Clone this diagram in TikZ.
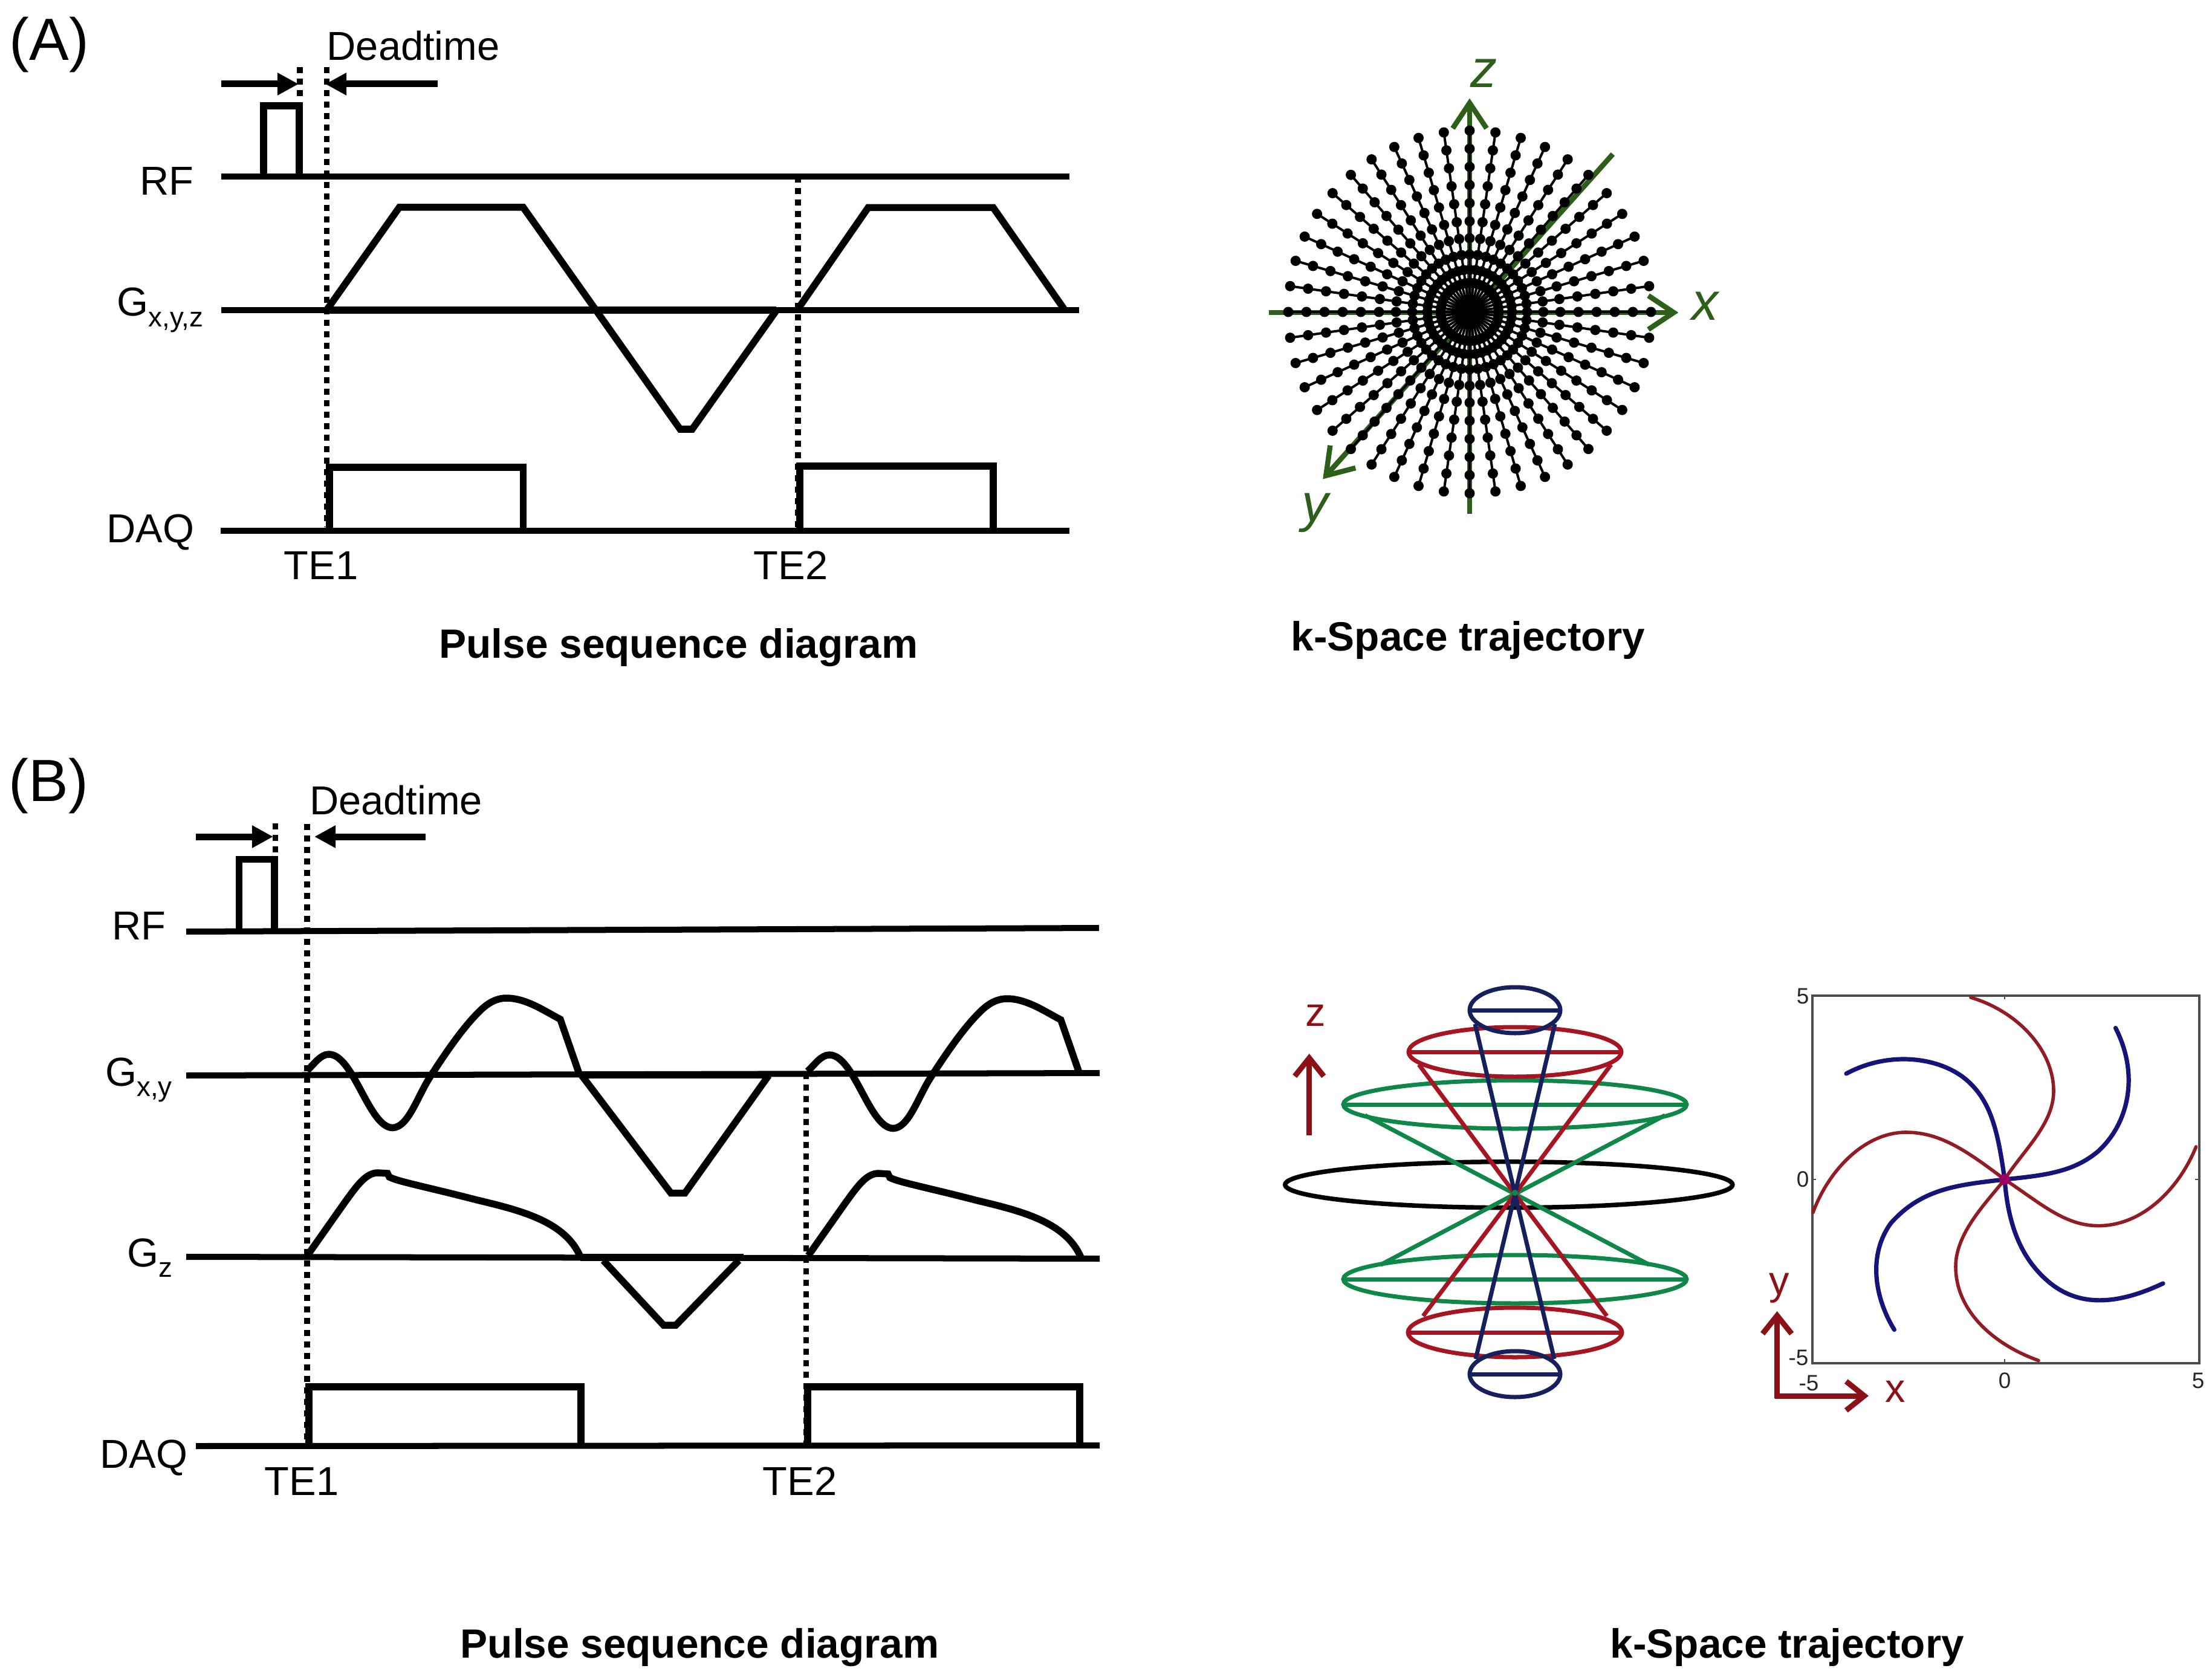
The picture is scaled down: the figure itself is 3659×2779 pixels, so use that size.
\documentclass[tikz,border=0pt]{standalone}
\usepackage{fontspec}
\setmainfont{Liberation Sans}
\usepackage{xcolor}
\usetikzlibrary{arrows.meta}
\definecolor{kgreen}{RGB}{45,95,27}
\definecolor{conenavy}{RGB}{22,32,92}
\definecolor{conered}{RGB}{165,22,34}
\definecolor{conegreen}{RGB}{14,135,72}
\definecolor{axisred}{RGB}{140,16,24}
\definecolor{spiralblue}{RGB}{22,20,120}
\definecolor{spiralred}{RGB}{145,28,36}
\tikzset{
  lab/.style={anchor=base west, inner sep=0pt, font=\fontsize{19}{23}\selectfont},
  panellab/.style={anchor=base west, inner sep=0pt, font=\fontsize{28}{34}\selectfont},
  titlelab/.style={anchor=base west, inner sep=0pt, font=\fontsize{19.2}{23}\selectfont\bfseries},
  greenlab/.style={anchor=base west, inner sep=0pt, text=kgreen, font=\fontsize{25}{30}\selectfont\itshape},
  redlab/.style={anchor=base west, inner sep=0pt, text=axisred, font=\fontsize{19}{23}\selectfont},
  ticklab/.style={inner sep=0pt, text=black!85, font=\fontsize{10.5}{10.5}\selectfont},
  base/.style={line width=0.1cm},
  wave/.style={line width=0.115cm, line join=miter},
  thickbase/.style={line width=0.125cm},
  teline/.style={line width=0.095cm, dash pattern=on 0.1cm off 0.09cm},
  dtarrow/.style={line width=0.11cm, -{Triangle[length=0.35cm,width=0.35cm]}},
  kaxis/.style={kgreen, line width=0.085cm, -{Straight Barb[length=0.42cm,width=0.56cm]}},
  redaxis/.style={axisred, line width=0.09cm, -{Straight Barb[length=0.3cm,width=0.48cm]}},
  conepart/.style={line width=0.07cm},
  bluecurve/.style={spiralblue, line width=0.072cm, line cap=round},
  redcurve/.style={spiralred, line width=0.056cm, line cap=round},
}
\newcommand{\subtext}[1]{\raisebox{-0.17cm}{\fontsize{13}{15}\selectfont #1}}

\begin{document}
\begin{tikzpicture}[x=0.01cm, y=-0.01cm]
  \useasboundingbox (0,0) rectangle (3659,2779);

  % Panel A labels
  \node[panellab] (panelA) at (15,100) {(A)};
  \node[lab] (deadA) at (540,100) {Deadtime};
  \node[lab] (rfA) at (231,323) {RF};
  \node[lab] (gA) at (193,523) {G\subtext{x,y,z}};
  \node[lab] (daqA) at (176,897) {DAQ};
  \node[lab] (te1A) at (469,958) {TE1};
  \node[lab] (te2A) at (1246,958) {TE2};
  \node[titlelab] (pulseA) at (726,1088) {Pulse sequence diagram};
  \node[titlelab] (trajA) at (2135,1076) {k-Space trajectory};

  % Panel A deadtime
  \draw[dtarrow] (366,139) -- (494,139);
  \draw[dtarrow] (724,139) -- (538,139);
  \draw[teline] (496,111) -- (496,165);
  \draw[teline] (540.5,111) -- (540.5,872);
  \draw[teline] (1320,292) -- (1320,872);

  % Panel A baselines
  \draw[base] (366,292) -- (1769,292);
  \draw[base] (366,513) -- (1785,513);
  \draw[thickbase] (541,513) -- (1284,513);
  \draw[base] (365,878) -- (1769,878);

  % Panel A waveforms
  \draw[wave] (436,292) -- (436,175) -- (495,175) -- (495,292);
  \draw[wave] (541,512) -- (660.5,343) -- (865.5,343) -- (1125,710) -- (1145,710) -- (1284,514);
  \draw[wave] (1320,511) -- (1436,343.5) -- (1643,343.5) -- (1760,511);
  \draw[wave] (545,878) -- (545,773) -- (865.5,773) -- (865.5,878);
  \draw[wave] (1323,877) -- (1323,771) -- (1643,771) -- (1643,877);

  % Panel A trajectory
  \draw[kgreen, line width=0.085cm] (2431,849.5) -- (2431,516);
  \draw[kaxis] (2431,516) -- (2431,162.7);
  \draw[kaxis] (2098.8,517) -- (2776.3,517);
  \draw[kaxis] (2667.9,254.9) -- (2188.2,792.5);
  \begin{scope}[shift={(2431,516)}]
    \foreach \k in {0,...,43} {
      \pgfmathsetmacro{\ang}{360*\k/44}
      \draw[line width=0.04cm] (0,0) -- (\ang:300);
      \foreach \r in {300,270,240,210,180,150,122,95,70,48}
        \fill (\ang:\r) circle [radius=8.5];
    }
  \end{scope}
  \fill (2431,516) circle [radius=24];
  \node[greenlab] (zA) at (2432,145) {z};
  \node[greenlab] (xA) at (2798,530) {x};
  \node[greenlab] (yA) at (2153,863) {y};

  % Panel B labels
  \node[panellab] (panelB) at (14,1325) {(B)};
  \node[lab] (deadB) at (511.5,1347) {Deadtime};
  \node[lab] (rfB) at (185,1554) {RF};
  \node[lab] (gxyB) at (173.5,1796) {G\subtext{x,y}};
  \node[lab] (gzB) at (210,2095) {G\subtext{z}};
  \node[lab] (daqB) at (165,2428) {DAQ};
  \node[lab] (te1B) at (437,2473) {TE1};
  \node[lab] (te2B) at (1261,2473) {TE2};
  \node[titlelab] (pulseB) at (761,2742) {Pulse sequence diagram};
  \node[titlelab] (trajB) at (2663,2742) {k-Space trajectory};

  % Panel B deadtime
  \draw[dtarrow] (324,1384) -- (452,1384);
  \draw[dtarrow] (703.6,1384) -- (520,1384);
  \draw[teline] (455.5,1362) -- (455.5,1420);
  \draw[teline] (508,1363) -- (508,2389);
  \draw[teline] (1333.5,1775) -- (1333.5,2389);

  % Panel B baselines
  \draw[base] (308,1541) -- (1818,1535);
  \draw[base] (308,1779) -- (1819,1775);
  \draw[thickbase] (960,1778) -- (1274,1778);
  \draw[base] (308,2079) -- (1819,2082);
  \draw[thickbase] (960,2080) -- (1230,2080);
  \draw[base] (324,2392) -- (1819,2391);

  % Panel B waveforms
  \draw[wave] (395.5,1541) -- (395.5,1421.6) -- (454,1421.6) -- (454,1540);
  \foreach \dx/\dy in {0/0, 828/1} {
    \begin{scope}[shift={(\dx,\dy)}]
      \draw[wave] (507.8,1771) .. controls (520,1760) and (530,1744) .. (544,1744)
        .. controls (585,1744) and (610,1865) .. (649.4,1865.5)
        .. controls (675,1865) and (690,1815) .. (711,1782)
        .. controls (735,1745) and (765,1700) .. (794,1672)
        .. controls (810,1656) and (825,1651) .. (837.5,1651)
        .. controls (870,1651) and (900,1672) .. (926.8,1686) -- (958,1776);
      \draw[wave] (509,2076) -- (571,1988) .. controls (590,1962) and (605,1940) .. (625,1940)
        -- (641,1941) -- (644,1947) .. controls (660,1955) and (700,1962) .. (787.8,1984.7)
        .. controls (860,2002) and (935,2020) .. (960,2079);
    \end{scope}
  }
  \draw[wave] (960,1776) -- (1109.7,1973.5) -- (1133,1973.5) -- (1271.5,1779);
  \draw[wave] (998,2085) -- (1097.6,2192) -- (1118,2192) -- (1222,2085);
  \draw[wave] (511,2392) -- (511,2294) -- (961,2294) -- (961,2392);
  \draw[wave] (1336,2391) -- (1336,2294) -- (1786,2294) -- (1786,2391);

  % Panel B cones
  \draw[conepart, line width=0.075cm] (2495.8,1959.7) ellipse [x radius=370, y radius=38];
  \foreach \col/\cy/\rx/\ry/\ex/\ey in {conegreen/1827/284/40/248/1845, conered/1740/176/41/159/1761, conenavy/1671/75/38/66/1694, conegreen/2116/284/40/222/2092, conered/2204/177/41/152/2177, conenavy/2273/75/38/65/2248} {
    \draw[conepart, \col] (2506,\cy) ellipse [x radius=\rx, y radius=\ry];
    \draw[conepart, \col] (2506-\rx,\cy) -- (2506+\rx,\cy);
    \draw[conepart, \col] (2506-\ex,\ey) -- (2506,1975) -- (2506+\ex,\ey);
  }
  \fill[conenavy] (2506,1990) circle [radius=6];
  \fill[conegreen] (2506,1973) circle [radius=5];
  \draw[redaxis] (2165.7,1878) -- (2165.7,1743);
  \node[redlab] (zB) at (2159,1697) {z};

  % Panel B spiral plot
  \draw[black!70, line width=0.04cm] (2997.7,1647) rectangle (3637.6,2254.6);
  \draw[black!70, line width=0.02cm] (3316,1647) -- (3316,1653);
  \draw[black!70, line width=0.02cm] (3316,2254.6) -- (3316,2248);
  \draw[black!70, line width=0.02cm] (2997.7,1951) -- (3004,1951);
  \draw[black!70, line width=0.02cm] (3637.6,1951) -- (3631,1951);
  \draw[bluecurve] (3316,1951) .. controls (3306,1880) and (3296,1830) .. (3262,1795)
    .. controls (3220,1750) and (3130,1735) .. (3054,1776);
  \draw[bluecurve] (3316,1951) .. controls (3386,1944) and (3430,1938) .. (3470,1905)
    .. controls (3520,1860) and (3540,1780) .. (3499.5,1700.5);
  \draw[bluecurve] (3316,1951) .. controls (3322,2030) and (3345,2085) .. (3392,2123)
    .. controls (3445,2165) and (3510,2155) .. (3578,2123);
  \draw[bluecurve] (3316,1951) .. controls (3240,1960) and (3180,1965) .. (3128,2023)
    .. controls (3090,2075) and (3100,2145) .. (3133.4,2199.5);
  \draw[redcurve] (3316,1951) .. controls (3345,1905) and (3397,1860) .. (3397,1805)
    .. controls (3397,1735) and (3335,1672) .. (3260,1650);
  \draw[redcurve] (3316,1951) .. controls (3255,1905) and (3210,1873) .. (3153,1873)
    .. controls (3085,1873) and (3025,1935) .. (2999,2005.6);
  \draw[redcurve] (3316,1951) .. controls (3285,1990) and (3235,2040) .. (3235,2095)
    .. controls (3235,2170) and (3300,2225) .. (3372,2250.5);
  \draw[redcurve] (3316,1951) .. controls (3375,1990) and (3415,2027.6) .. (3471,2027.6)
    .. controls (3545,2027.6) and (3605,1965) .. (3632.6,1897);
  \fill[purple!80!blue] (3316,1951) circle [radius=9];
  \node[ticklab] (ytop) at (2982,1648) {5};
  \node[ticklab] (ymid) at (2982,1951) {0};
  \node[ticklab] (ybot) at (2975,2246) {-5};
  \node[ticklab] (xleft) at (2992,2288) {-5};
  \node[ticklab] (xmid) at (3316,2284) {0};
  \node[ticklab] (xright) at (3636,2284) {5};
  \draw[redaxis] (2939.6,2313) -- (2939.6,2169);
  \draw[redaxis] (2936,2309) -- (3091,2309);
  \node[redlab] (yB) at (2926,2141) {y};
  \node[redlab] (xB) at (3118,2319) {x};
\end{tikzpicture}
\end{document}
